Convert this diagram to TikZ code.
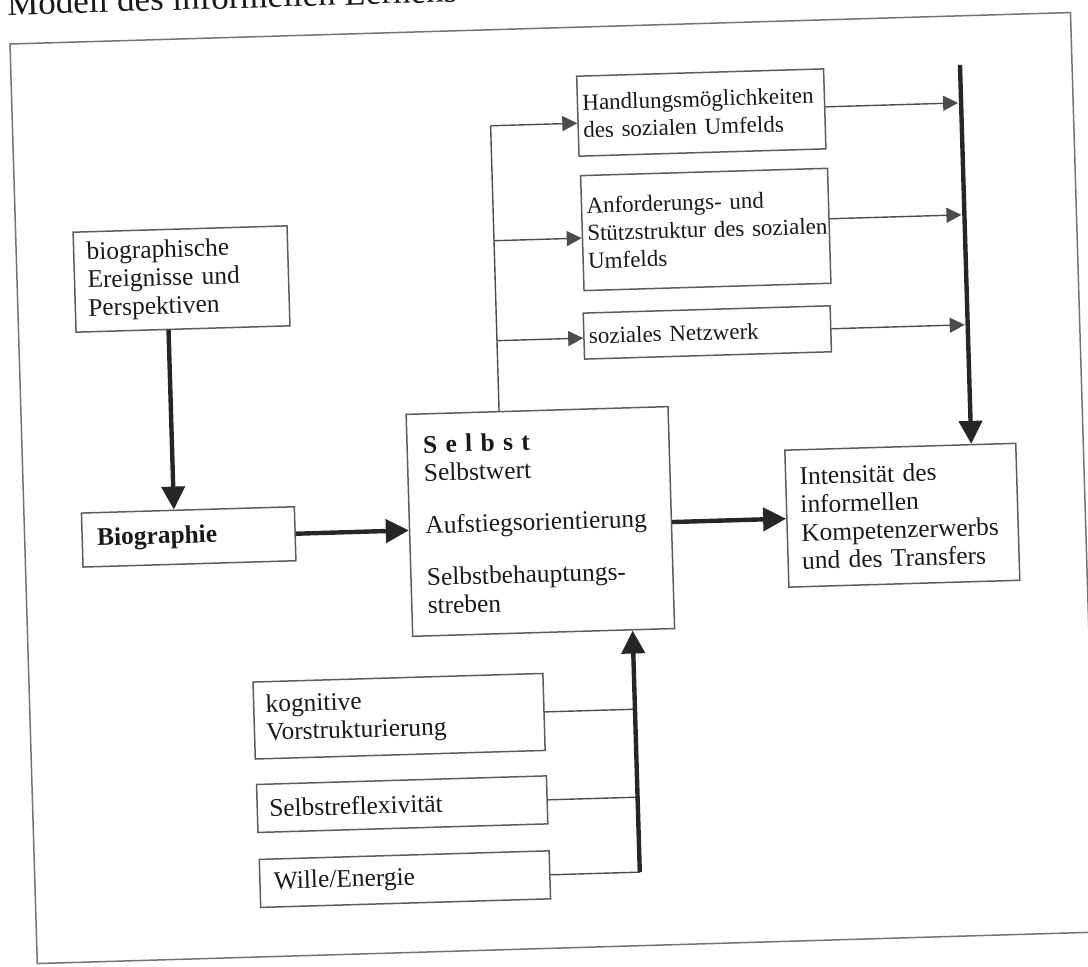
\documentclass[tikz,border=0pt]{standalone}
\usepackage{fontspec}
\setmainfont{Liberation Serif}
\usetikzlibrary{arrows.meta,calc}
\definecolor{txt}{gray}{0.1}
\definecolor{boxln}{gray}{0.36}
\definecolor{thinln}{gray}{0.3}
\definecolor{darkln}{gray}{0.15}
\definecolor{framln}{gray}{0.45}
\begin{document}
\begin{tikzpicture}[x=0.5pt,y=0.5pt,
  box/.style={draw=boxln, line width=0.75pt, rectangle, align=left, text=txt, inner ysep=0pt, font=\fontsize{12.7}{14.1}\selectfont},
  smallbox/.style={box, font=\fontsize{11.5}{13.8}\selectfont},
  thinline/.style={draw=thinln, line width=0.7pt},
  thinarrow/.style={thinline, -{Triangle[length=7.5pt,width=7.5pt]}},
  thickline/.style={draw=darkln, line width=2.2pt},
  thickarrow/.style={thickline, -{Triangle[length=11.5pt,width=11.5pt]}},
]
\useasboundingbox (0,0) rectangle (1088,-966);
\begin{scope}[shift={(10,-44)}, rotate=1.7, transform shape]
\draw[draw=framln, line width=0.75pt] (0,0) rectangle (1061,-920);
\node[anchor=base west, inner sep=0pt, text=txt, font=\fontsize{17.5}{20}\selectfont] (title) at (-2,29) {Modell des informellen Lernens};

% top boxes
\node[smallbox, minimum width=123.5pt, minimum height=40pt, text width=118.5pt, inner xsep=2.5pt] (hand) at (689,-89) {Handlungsmöglichkeiten\\des sozialen Umfelds};
\node[smallbox, minimum width=123.5pt, minimum height=57.5pt, text width=118.5pt, inner xsep=2.5pt] (anf) at (690,-206) {Anforderungs- und\\\mbox{Stützstruktur des sozialen}\\Umfelds};
\node[smallbox, minimum width=123.5pt, minimum height=23pt, text width=118.5pt, inner xsep=2.5pt] (netz) at (688.5,-309) {soziales Netzwerk};

% left column
\node[box, minimum width=107pt, minimum height=50pt, text width=94pt, inner xsep=6.5pt] (bioev) at (164.5,-240) {biographische\\Ereignisse und\\Perspektiven};
\node[box, minimum width=106.5pt, minimum height=27pt, text width=91.5pt, inner xsep=7.5pt] (bio) at (164,-498) {\textbf{Biographie}};

% centre
\node[box, minimum width=131pt, minimum height=111pt, text width=115pt, inner xsep=8pt] (selbst) at (516,-493) {\textbf{S\hspace{.33em}e\hspace{.33em}l\hspace{.33em}b\hspace{.33em}s\hspace{.33em}t}\\Selbstwert\\[12pt]\mbox{Aufstiegsorientierung}\\[12pt]Selbstbehauptungs-\\streben\\[3pt]};

% right
\node[box, minimum width=115.5pt, minimum height=68.5pt, text width=101.5pt, inner xsep=7pt] (int) at (878,-497.5) {Intensität des\\informellen\\\mbox{Kompetenzerwerbs}\\und des Transfers};

% bottom boxes
\node[box, minimum width=145pt, minimum height=38.5pt, text width=133pt, inner xsep=6pt] (kog) at (369,-683.5) {kognitive\\Vorstrukturierung};
\node[box, minimum width=145pt, minimum height=24pt, text width=133pt, inner xsep=6pt] (ref) at (369.5,-771.5) {Selbstreflexivität};
\node[box, minimum width=145pt, minimum height=24pt, text width=131pt, inner xsep=7pt] (will) at (370,-846.5) {Wille/Energie};

% left branch to the social boxes
\coordinate (lx1) at (478,-96);
\coordinate (lx2) at (478,-211);
\coordinate (lx3) at (478,-311);
\draw[thinline] (lx1) -- ($(selbst.north west)!(lx1)!(selbst.north east)$);
\draw[thinarrow] (lx1) -- ($(hand.north west)!(lx1)!(hand.south west)$);
\draw[thinarrow] (lx2) -- ($(anf.north west)!(lx2)!(anf.south west)$);
\draw[thinarrow] (lx3) -- ($(netz.north west)!(lx3)!(netz.south west)$);

% right collector
\coordinate (rtop) at (949,-49);
\coordinate (r1) at (946,-87);
\coordinate (r2) at (946,-199);
\coordinate (r3) at (946,-309);
\draw[thickarrow] (rtop) -- ($(int.north west)!(rtop)!(int.north east)$);
\draw[thinarrow] ($(hand.north east)!(r1)!(hand.south east)$) -- (r1);
\draw[thinarrow] ($(anf.north east)!(r2)!(anf.south east)$) -- (r2);
\draw[thinarrow] ($(netz.north east)!(r3)!(netz.south east)$) -- (r3);

% biography chain
\coordinate (bx) at (150,-300);
\draw[thickarrow] ($(bioev.south west)!(bx)!(bioev.south east)$) -- ($(bio.north west)!(bx)!(bio.north east)$);
\draw[thickarrow] (bio.east) -- ($(selbst.north west)!(bio.east)!(selbst.south west)$);
\draw[thickarrow] ($(selbst.north east)!(int.west)!(selbst.south east)$) -- (int.west);

% bottom collector
\coordinate (va) at (605,-600);
\coordinate (vb) at (605,-900);
\draw[thinline] (kog.east) -- ($(va)!(kog.east)!(vb)$);
\draw[thinline] (ref.east) -- ($(va)!(ref.east)!(vb)$);
\draw[thinline] (will.east) -- ($(va)!(will.east)!(vb)$);
\draw[thickarrow] ($(va)!(will.east)!(vb)$) -- ($(selbst.south west)!(va)!(selbst.south east)$);
\end{scope}
\end{tikzpicture}
\end{document}
